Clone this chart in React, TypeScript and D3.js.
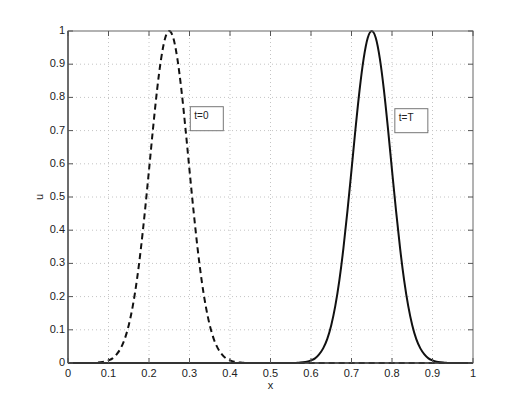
import React from "react";
import * as d3 from "d3";

// samples (outside these ranges the curves sit at 0)
const xStart = [0, 0.06, 0.07, 0.08, 0.09, 0.1, 0.11, 0.12, 0.13, 0.14, 0.15, 0.16, 0.17, 0.18, 0.19, 0.2, 0.21, 0.22, 0.23, 0.24, 0.25,
  0.26, 0.27, 0.28, 0.29, 0.3, 0.31, 0.32, 0.33, 0.34, 0.35, 0.36, 0.37, 0.38, 0.39, 0.4, 0.41, 0.42, 0.43, 0.44, 1];
const uStart = [0, 0, 0.001, 0.002, 0.004, 0.008, 0.014, 0.026, 0.044, 0.072, 0.114, 0.172, 0.249, 0.345, 0.458, 0.581, 0.707, 0.823, 0.917, 0.979, 1,
  0.979, 0.917, 0.823, 0.707, 0.581, 0.458, 0.345, 0.249, 0.172, 0.114, 0.072, 0.044, 0.026, 0.014, 0.008, 0.004, 0.002, 0.001, 0, 0];

const xEnd = [0, 0.56, 0.57, 0.58, 0.59, 0.6, 0.61, 0.62, 0.63, 0.64, 0.65, 0.66, 0.67, 0.68, 0.69, 0.7, 0.71, 0.72, 0.73, 0.74, 0.75,
  0.76, 0.77, 0.78, 0.79, 0.8, 0.81, 0.82, 0.83, 0.84, 0.85, 0.86, 0.87, 0.88, 0.89, 0.9, 0.91, 0.92, 0.93, 0.94, 1];
const uEnd = [0, 0, 0.001, 0.002, 0.004, 0.008, 0.014, 0.026, 0.044, 0.072, 0.114, 0.172, 0.249, 0.345, 0.458, 0.581, 0.707, 0.823, 0.917, 0.979, 1,
  0.979, 0.917, 0.823, 0.707, 0.581, 0.458, 0.345, 0.249, 0.172, 0.114, 0.072, 0.044, 0.026, 0.014, 0.008, 0.004, 0.002, 0.001, 0, 0];

const xTicks = [0, 0.1, 0.2, 0.3, 0.4, 0.5, 0.6, 0.7, 0.8, 0.9, 1];
const yTicks = [0, 0.1, 0.2, 0.3, 0.4, 0.5, 0.6, 0.7, 0.8, 0.9, 1];
const tickLabels = ["0", "0.1", "0.2", "0.3", "0.4", "0.5", "0.6", "0.7", "0.8", "0.9", "1"];

const notes = [
  { text: "t=0", x: 0.302, y: 0.772 },
  { text: "t=T", x: 0.807, y: 0.766 },
];

const W = 524;
const H = 409;
const font = "'Liberation Sans', Arial, sans-serif";

export default function App() {
  const x = d3.scaleLinear().domain([0, 1]).range([68, 473]);
  const y = d3.scaleLinear().domain([0, 1]).range([363, 31]);

  const line = d3
    .line<[number, number]>()
    .x((d) => x(d[0]))
    .y((d) => y(d[1]))
    .curve(d3.curveMonotoneX);

  const startPts = xStart.map((v, i) => [v, uStart[i]] as [number, number]);
  const endPts = xEnd.map((v, i) => [v, uEnd[i]] as [number, number]);

  const [x0, x1] = x.range();
  const [y0, y1] = y.range();
  const tk = 5;

  return (
    <svg width={W} height={H} style={{ position: "absolute", left: 0, top: 0, background: "#fff" }} fontFamily={font}>
      {/* grid */}
      {xTicks.slice(1, -1).map((t) => (
        <line key={"gx" + t} x1={x(t)} x2={x(t)} y1={y0} y2={y1} stroke="#c4c4c4" strokeDasharray="1,3" />
      ))}
      {yTicks.slice(1, -1).map((t) => (
        <line key={"gy" + t} x1={x0} x2={x1} y1={y(t)} y2={y(t)} stroke="#c4c4c4" strokeDasharray="1,3" />
      ))}

      {/* curves */}
      <path d={line(startPts) ?? ""} fill="none" stroke="#111" strokeWidth={2} strokeDasharray="6,4" />
      <path d={line(endPts) ?? ""} fill="none" stroke="#111" strokeWidth={2} />

      {/* box */}
      <rect x={x0} y={y1} width={x1 - x0} height={y0 - y1} fill="none" stroke="#666" strokeWidth={1} />
      <line x1={x0} x2={x0} y1={y1} y2={y0} stroke="#555" strokeWidth={1.5} />
      <line x1={x0} x2={x1} y1={y0} y2={y0} stroke="#333" strokeWidth={1.5} />

      {/* ticks, inward on all sides */}
      {xTicks.map((t) => (
        <g key={"tx" + t}>
          <line x1={x(t)} x2={x(t)} y1={y0} y2={y0 - tk} stroke="#555" />
          <line x1={x(t)} x2={x(t)} y1={y1} y2={y1 + tk} stroke="#555" />
        </g>
      ))}
      {yTicks.map((t) => (
        <g key={"ty" + t}>
          <line x1={x0} x2={x0 + tk} y1={y(t)} y2={y(t)} stroke="#555" />
          <line x1={x1} x2={x1 - tk} y1={y(t)} y2={y(t)} stroke="#555" />
        </g>
      ))}

      {/* tick labels */}
      {xTicks.map((t, i) => (
        <text key={"lx" + t} x={x(t)} y={y0 + 14} fontSize={11} textAnchor="middle" fill="#222">
          {tickLabels[i]}
        </text>
      ))}
      {yTicks.map((t, i) => (
        <text key={"ly" + t} x={x0 - 3} y={y(t)} fontSize={11} textAnchor="end" dominantBaseline="middle" fill="#222">
          {tickLabels[i]}
        </text>
      ))}

      {/* axis labels */}
      <text x={(x0 + x1) / 2} y={y0 + 26} fontSize={11} textAnchor="middle" fill="#222">
        x
      </text>
      <text
        transform={`translate(${x0 - 28},${(y0 + y1) / 2}) rotate(-90)`}
        fontSize={11}
        textAnchor="middle"
        dominantBaseline="middle"
        fill="#222"
      >
        u
      </text>

      {/* annotations */}
      {notes.map((n) => (
        <g key={n.text} transform={`translate(${x(n.x)},${y(n.y)})`}>
          <rect x={0} y={0} width={33} height={24} fill="#fff" stroke="#777" strokeWidth={1} />
          <text x={4} y={12} fontSize={10} fill="#222">
            {n.text}
          </text>
        </g>
      ))}
    </svg>
  );
}
